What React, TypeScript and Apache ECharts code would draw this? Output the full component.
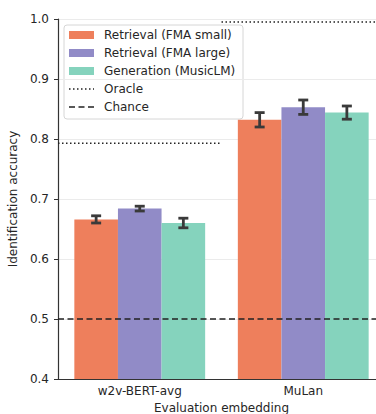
import React, { useEffect, useRef } from "react";
import * as echarts from "echarts";

const categories = ["w2v-BERT-avg", "MuLan"];
const seriesNames = ["Retrieval (FMA small)", "Retrieval (FMA large)", "Generation (MusicLM)"];
const values = [
  [0.666, 0.832],
  [0.684, 0.853],
  [0.660, 0.844],
];
const errors = [
  [0.006, 0.012],
  [0.004, 0.012],
  [0.008, 0.011],
];
const oracle = [0.793, 0.995];
const chance = 0.5;
const legendExtra = ["Oracle", "Chance"];
const colors = ["#ee7f5c", "#918bc7", "#85d3bd"];
const yTicks = [0.4, 0.5, 0.6, 0.7, 0.8, 0.9, 1.0];

export default function App() {
  const ref = useRef<HTMLDivElement>(null);
  useEffect(() => {
    if (!ref.current) return;
    const chart = echarts.init(ref.current, null, { renderer: "svg" });
    const font = "DejaVu Sans";
    const txt = "#262626";
    const dotted = [1.5, 2.5];
    const dashed = [6, 3.5];
    const barSeries = seriesNames.map((name, i) => ({
      name,
      type: "bar",
      xAxisIndex: 0,
      yAxisIndex: 0,
      data: values[i],
      barWidth: "26.67%",
      barGap: "0%",
      itemStyle: { color: colors[i] },
      z: 2,
    }));
    const errSeries = {
      type: "custom",
      name: "err",
      xAxisIndex: 0,
      yAxisIndex: 0,
      z: 5,
      data: values.flatMap((vals, s) => vals.map((v, c) => [c, v, errors[s][c], s])),
      renderItem: (params: any, api: any) => {
        const c = api.value(0);
        const v = api.value(1);
        const e = api.value(2);
        const s = api.value(3);
        const band = api.size([1, 0])[0];
        const w = band * 0.2667;
        const center = api.coord([c, v]);
        const x = center[0] + (s - 1) * w;
        const yTop = api.coord([c, v + e])[1];
        const yBot = api.coord([c, v - e])[1];
        const cap = 5;
        const style = { stroke: "#3a3a3a", lineWidth: 2.8 };
        return {
          type: "group",
          children: [
            { type: "line", shape: { x1: x, y1: yTop, x2: x, y2: yBot }, style },
            { type: "line", shape: { x1: x - cap, y1: yTop, x2: x + cap, y2: yTop }, style },
            { type: "line", shape: { x1: x - cap, y1: yBot, x2: x + cap, y2: yBot }, style },
          ],
        };
      },
    };

    // legend drawn with graphic elements
    const lx = 64, ly = 25, rowH = 18;
    const legendChildren: any[] = [
      {
        type: "rect",
        shape: { x: 0, y: 0, width: 179, height: 94, r: 3 },
        style: { fill: "rgba(255,255,255,0.9)", stroke: "#d6d6d6", lineWidth: 1 },
      },
    ];
    const labels = [...seriesNames, ...legendExtra];
    labels.forEach((name, i) => {
      const cy = 10 + i * rowH;
      if (i < 3) {
        legendChildren.push({
          type: "rect",
          shape: { x: 5, y: cy - 4, width: 25, height: 8 },
          style: { fill: colors[i] },
        });
      } else {
        legendChildren.push({
          type: "line",
          shape: { x1: 5, y1: cy, x2: 30, y2: cy },
          style: { stroke: "#222", lineWidth: 1.6, lineDash: i === 3 ? dotted : dashed },
        });
      }
      legendChildren.push({
        type: "text",
        x: 40,
        y: cy,
        style: { text: name, fontFamily: font, fontSize: 12, fill: txt, verticalAlign: "middle", align: "left" },
      });
    });

    const option: any = {
      animation: false,
      textStyle: { fontFamily: font },
      grid: { left: 58, top: 19, right: -9, bottom: 35, containLabel: false, outerBoundsMode: "none" },
      graphic: [{ type: "group", x: lx, y: ly, z: 100, children: legendChildren }],
      xAxis: [
        {
          type: "category",
          data: categories,
          boundaryGap: true,
          axisLine: { onZero: false, lineStyle: { color: "#333", width: 1.2 } },
          axisTick: { alignWithLabel: true, length: 4, lineStyle: { color: "#333" } },
          axisLabel: { fontFamily: font, fontSize: 12, color: txt, margin: 6 },
          name: "Evaluation embedding",
          nameLocation: "middle",
          nameGap: 18,
          nameTextStyle: { fontFamily: font, fontSize: 12, color: txt },
        },
        {
          type: "value",
          min: -0.5,
          max: 1.5,
          show: false,
          axisLine: { show: false },
          splitLine: { show: false },
        },
      ],
      yAxis: {
        type: "value",
        min: 0.4,
        max: 1.0,
        interval: 0.1,
        axisLine: { show: true, onZero: false, lineStyle: { color: "#333", width: 1.2 } },
        axisTick: { show: true, length: 4, lineStyle: { color: "#333" } },
        axisLabel: {
          fontFamily: font,
          fontSize: 12,
          color: txt,
          margin: 9,
          formatter: (v: number) => {
            const t = yTicks.find((y) => Math.abs(y - v) < 1e-6);
            return (t ?? v).toFixed(1);
          },
        },
        splitLine: { show: true, lineStyle: { color: "#ebebeb", width: 1 } },
        name: "Identification accuracy",
        nameLocation: "middle",
        nameGap: 19,
        nameTextStyle: { fontFamily: font, fontSize: 12, color: txt },
      },
      series: [
        ...barSeries,
        errSeries,
        {
          name: "Oracle",
          type: "line",
          xAxisIndex: 1,
          yAxisIndex: 0,
          symbol: "none",
          z: 4,
          lineStyle: { type: dotted, color: "#222", width: 1.6 },
          data: [[-0.5, oracle[0]], [0.5, oracle[0]]],
        },
        {
          name: "Oracle",
          type: "line",
          xAxisIndex: 1,
          yAxisIndex: 0,
          symbol: "none",
          z: 4,
          lineStyle: { type: dotted, color: "#222", width: 1.6 },
          data: [[0.5, oracle[1]], [1.5, oracle[1]]],
        },
        {
          name: "Chance",
          type: "line",
          xAxisIndex: 1,
          yAxisIndex: 0,
          symbol: "none",
          z: 4,
          lineStyle: { type: dashed, color: "#222", width: 1.6 },
          data: [[-0.5, chance], [1.5, chance]],
        },
      ],
    };
    chart.setOption(option);
    return () => chart.dispose();
  }, []);
  return <div ref={ref} style={{ width: 376, height: 414, position: "absolute", left: 0, top: 0 }} />;
}
